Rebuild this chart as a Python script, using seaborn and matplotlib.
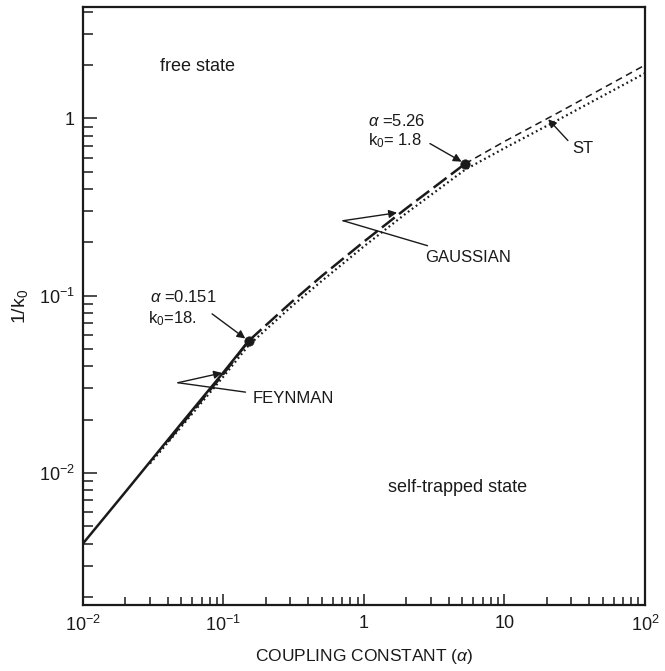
import numpy as np
import pandas as pd
import seaborn as sns
import matplotlib
matplotlib.use('Agg')
import matplotlib.pyplot as plt
from matplotlib.ticker import LogLocator, NullFormatter

# phase boundary 1/k0 against coupling constant
feynman_alpha = [0.01, 0.02, 0.05, 0.1, 0.151]
feynman_inv_k0 = [0.0040, 0.0078, 0.019, 0.037, 0.0556]

gauss_alpha = [0.04, 0.07, 0.1, 0.151, 0.3, 0.5, 1.0, 2.0, 5.26]
gauss_inv_k0 = [0.0150, 0.0258, 0.0362, 0.0556, 0.091, 0.129, 0.202, 0.311, 0.556]

gauss_hi_alpha = [5.26, 10, 23.7, 50, 100]
gauss_hi_inv_k0 = [0.556, 0.742, 1.07, 1.48, 2.0]

st_alpha = [0.03, 0.05, 0.1, 0.151, 0.3, 0.5, 1.0, 2.0, 5.26, 10, 23.7, 50, 100]
st_inv_k0 = [0.0113, 0.0182, 0.0350, 0.0525, 0.086, 0.121, 0.190, 0.292, 0.515, 0.68, 0.975, 1.34, 1.80]

# critical points marked with dots
crit_alpha = [0.151, 5.26]
crit_k0 = [18.0, 1.8]

x_ticks = [0.01, 0.1, 1, 10, 100]
x_ticklabels = ['10$^{-2}$', '10$^{-1}$', '1', '10', '10$^{2}$']
y_ticks = [0.01, 0.1, 1]
y_ticklabels = ['10$^{-2}$', '10$^{-1}$', '1']

sns.set_theme(style='ticks')
plt.rcParams['font.family'] = ['Liberation Sans', 'DejaVu Sans']
plt.rcParams['mathtext.fontset'] = 'custom'
plt.rcParams['mathtext.rm'] = 'Liberation Sans'
plt.rcParams['mathtext.it'] = 'Liberation Sans:italic'
plt.rcParams['text.color'] = 'k'
plt.rcParams['axes.labelcolor'] = 'k'

fig = plt.figure(figsize=(6.65, 6.71), dpi=100)
ax = fig.add_axes([0.1248, 0.0984, 0.845, 0.891])

# curves
sns.lineplot(x=feynman_alpha, y=feynman_inv_k0, ax=ax, color='k', lw=1.8,
             linestyle='-', sort=False)
sns.lineplot(x=gauss_alpha, y=gauss_inv_k0, ax=ax, color='k', lw=1.8,
             linestyle=(0, (6.5, 2.2)), sort=False)
sns.lineplot(x=gauss_hi_alpha, y=gauss_hi_inv_k0, ax=ax, color='k', lw=1.1,
             linestyle=(0, (4.5, 3.0)), sort=False)
sns.lineplot(x=st_alpha, y=st_inv_k0, ax=ax, color='k', lw=1.6,
             linestyle=(0, (0.8, 1.4)), sort=False)

crit_inv_k0 = 1.0 / np.array(crit_k0)
sns.scatterplot(x=crit_alpha, y=crit_inv_k0, ax=ax, color='k', s=45,
                edgecolor='k', zorder=5)

ax.set_xscale('log')
ax.set_yscale('log')
ax.set_xlim(0.01, 100)
ax.set_ylim(1.8e-3, 4.25)

ax.set_xticks(x_ticks, x_ticklabels)
ax.set_yticks(y_ticks, y_ticklabels)
ax.xaxis.set_minor_locator(LogLocator(base=10, subs=np.arange(2, 10)))
ax.yaxis.set_minor_locator(LogLocator(base=10, subs=np.arange(2, 10)))
ax.xaxis.set_minor_formatter(NullFormatter())
ax.yaxis.set_minor_formatter(NullFormatter())

ax.tick_params(axis='both', which='both', direction='in', top=False, right=False,
               width=1.1, labelsize=13, colors='k')
ax.tick_params(axis='x', which='major', length=8, pad=7)
ax.tick_params(axis='x', which='minor', length=6)
ax.tick_params(axis='y', which='major', length=10, pad=6)
ax.tick_params(axis='y', which='minor', length=7)
for s in ax.spines.values():
    s.set_linewidth(1.6)
    s.set_color('k')

ax.set_xlabel('COUPLING CONSTANT ($\\alpha$)', fontsize=12.5, labelpad=9)
ax.set_ylabel('1/k$_0$', fontsize=14, labelpad=6)

# region labels
ax.text(0.137, 0.90, 'free state', transform=ax.transAxes, fontsize=13,
        ha='left', va='center')
ax.text(0.543, 0.196, 'self-trapped state', transform=ax.transAxes, fontsize=13,
        ha='left', va='center')

# critical point labels
ax.text(0.030, 0.0987, '$\\alpha$ =0.151', fontsize=12, ha='left', va='center')
ax.text(0.029, 0.0741, 'k$_0$=18.', fontsize=12, ha='left', va='center')
ax.annotate('', xy=(crit_alpha[0], crit_inv_k0[0]), xytext=(0.083, 0.079),
            arrowprops=dict(arrowstyle='-|>', color='k', lw=1.0,
                            mutation_scale=12, shrinkA=0, shrinkB=3))

ax.text(1.07, 0.974, '$\\alpha$ =5.26', fontsize=12, ha='left', va='center')
ax.text(1.07, 0.751, 'k$_0$= 1.8', fontsize=12, ha='left', va='center')
ax.annotate('', xy=(crit_alpha[1], crit_inv_k0[1]), xytext=(2.95, 0.722),
            arrowprops=dict(arrowstyle='-|>', color='k', lw=1.0,
                            mutation_scale=12, shrinkA=0, shrinkB=3))

# curve labels with bent leaders
ax.annotate('FEYNMAN', xy=(0.0474, 0.0323), xytext=(0.162, 0.0262),
            fontsize=12, ha='left', va='center',
            arrowprops=dict(arrowstyle='-', color='k', lw=1.0, shrinkA=3, shrinkB=0))
ax.annotate('', xy=(0.0976, 0.0367), xytext=(0.0474, 0.0323),
            arrowprops=dict(arrowstyle='-|>', color='k', lw=1.0,
                            mutation_scale=12, shrinkA=0, shrinkB=0))

ax.annotate('GAUSSIAN', xy=(0.71, 0.265), xytext=(2.72, 0.164),
            fontsize=12, ha='left', va='center',
            arrowprops=dict(arrowstyle='-', color='k', lw=1.0, shrinkA=3, shrinkB=0))
ax.annotate('', xy=(1.72, 0.294), xytext=(0.71, 0.265),
            arrowprops=dict(arrowstyle='-|>', color='k', lw=1.0,
                            mutation_scale=12, shrinkA=0, shrinkB=0))

ax.text(30.2, 0.677, 'ST', fontsize=12, ha='left', va='center')
ax.annotate('', xy=(20.5, 0.99), xytext=(28.3, 0.751),
            arrowprops=dict(arrowstyle='-|>', color='k', lw=1.0,
                            mutation_scale=12, shrinkA=0, shrinkB=0))

fig.savefig('out.png', dpi=100, facecolor='white')
